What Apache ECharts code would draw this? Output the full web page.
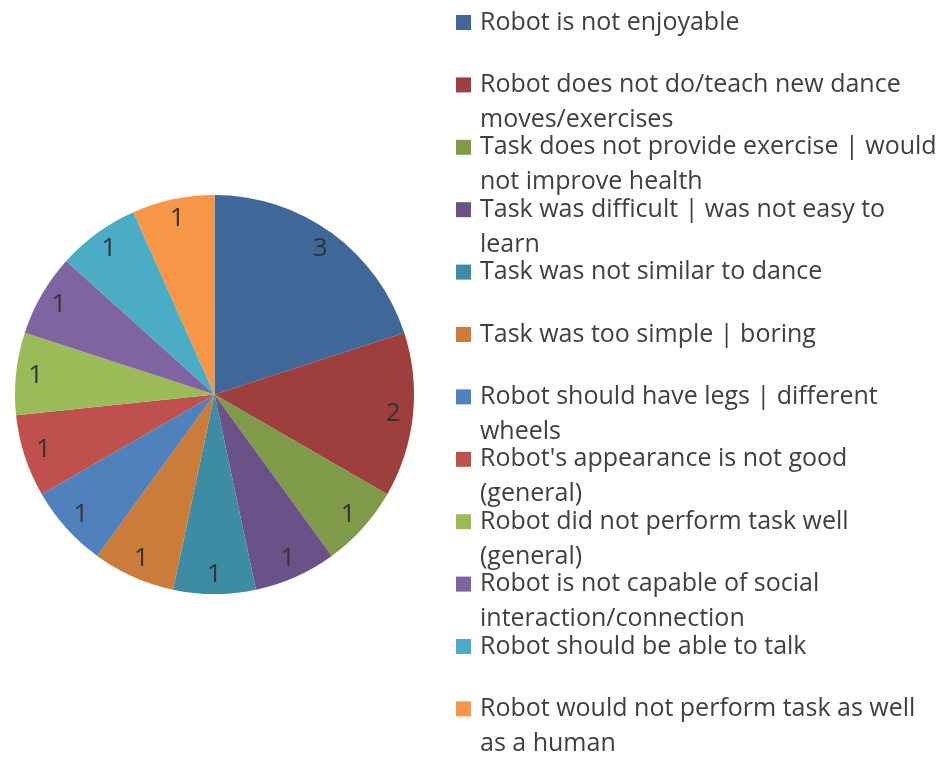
<!DOCTYPE html>
<html>
<head>
<meta charset="UTF-8">
<title>Pie</title>
<script src="https://cdn.jsdelivr.net/npm/echarts@6/dist/echarts.min.js"></script>
<style>
  body { margin: 0; background: #fff; }
  #root { width: 946px; height: 761px; }
</style>
</head>
<body>
<div id="root"></div>
<script>
// categories as shown in the legend (line breaks as in the picture)
var categories = [
    'Robot is not enjoyable',
    'Robot does not do/teach new dance\nmoves/exercises',
    'Task does not provide exercise | would\nnot improve health',
    'Task was difficult | was not easy to\nlearn',
    'Task was not similar to dance',
    'Task was too simple | boring',
    'Robot should have legs | different\nwheels',
    "Robot's appearance is not good\n(general)",
    'Robot did not perform task well\n(general)',
    'Robot is not capable of social\ninteraction/connection',
    'Robot should be able to talk',
    'Robot would not perform task as well\nas a human'
];
var counts = [3, 2, 1, 1, 1, 1, 1, 1, 1, 1, 1, 1];
var colors = ['#3F6899', '#9E3F3D', '#7F9A48', '#6A5188', '#3D8CA3', '#CB7B3A',
              '#4F81BD', '#C0504D', '#9BBB59', '#8064A2', '#4BACC6', '#F79646'];

var pieData = categories.map(function (name, i) {
    return { name: name, value: counts[i], itemStyle: { color: colors[i] } };
});
var labelData = categories.map(function (name, i) {
    return { name: name, value: counts[i] };
});

var FONT = '"Open Sans", "Liberation Sans", sans-serif';
var chart = echarts.init(document.getElementById('root'));

chart.setOption({
    backgroundColor: '#ffffff',
    animation: false,
    legend: {
        orient: 'vertical',
        left: 456,
        top: -30,
        height: 900,
        padding: 0,
        itemWidth: 15,
        itemHeight: 15,
        itemGap: -42.6,
        icon: 'rect',
        selectedMode: false,
        data: categories,
        formatter: function (name) {
            // empty line on top + two text lines, so the square lines up
            // with the first line and every slot has the same height
            return '\n' + (name.indexOf('\n') < 0 ? name + '\n' : name);
        },
        textStyle: {
            fontFamily: FONT,
            fontSize: 25,
            lineHeight: 35,
            color: '#404040',
            padding: [0, 0, 0, 4]
        }
    },
    series: [
        {
            type: 'pie',
            center: [214.5, 394.5],
            radius: 199.5,
            startAngle: 90,
            clockwise: true,
            avoidLabelOverlap: false,
            label: { show: false },
            labelLine: { show: false },
            emphasis: { disabled: true },
            itemStyle: { borderWidth: 0 },
            data: pieData
        },
        {
            // transparent ring only used to place the value labels near the rim
            type: 'pie',
            silent: true,
            center: [214.5, 394.5],
            radius: [154, 199.5],
            startAngle: 90,
            clockwise: true,
            avoidLabelOverlap: false,
            itemStyle: { color: 'rgba(0,0,0,0)' },
            label: {
                show: true,
                position: 'inside',
                formatter: '{c}',
                fontFamily: FONT,
                fontSize: 26,
                color: '#333333'
            },
            labelLine: { show: false },
            emphasis: { disabled: true },
            data: labelData
        }
    ]
});
</script>
</body>
</html>
